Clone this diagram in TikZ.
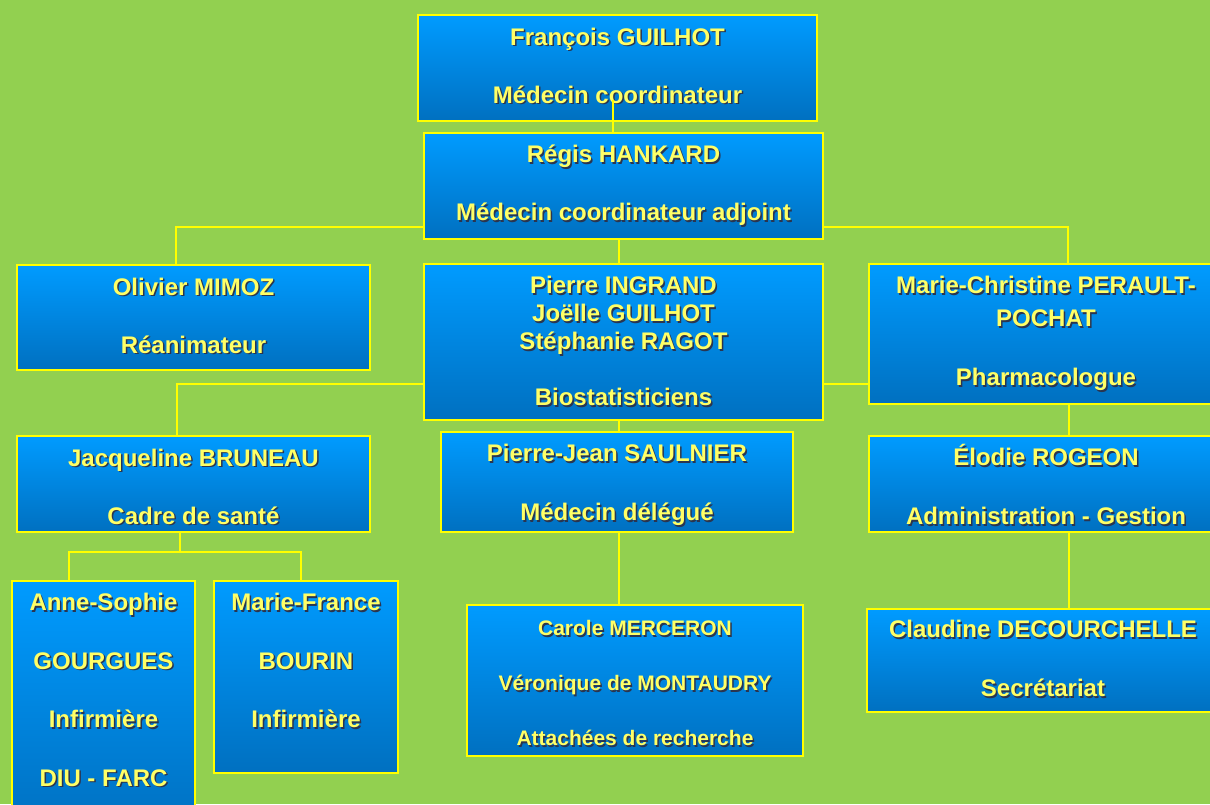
\documentclass[tikz,border=0pt]{standalone}
\usepackage{fontspec}
\setmainfont{Liberation Sans}
\usetikzlibrary{calc}
\definecolor{bggreen}{HTML}{92D050}
\definecolor{boxtop}{HTML}{009BFF}
\definecolor{boxbot}{HTML}{0070C0}
\definecolor{lineyel}{HTML}{FFFF00}
\definecolor{txtyel}{HTML}{FFFF66}
\definecolor{shadowc}{HTML}{2A3550}
\newcommand\shtxt[1]{\makebox[0pt][l]{\hspace{1.5pt}\raisebox{-1.5pt}{\color{shadowc}#1}}#1}
\newcommand\boxc[4]{\parbox[t][#2pt][t]{#1pt}{\centering\rule{0pt}{#3pt}#4}}
\pgfdeclarelayer{bglayer}
\pgfsetlayers{bglayer,main}
\tikzset{
  orgbox/.style={draw=lineyel, line width=2pt, top color=boxtop, bottom color=boxbot,
    inner sep=0pt, text=txtyel, anchor=north west,
    font=\fontsize{24}{29}\selectfont\bfseries},
  conn/.style={draw=lineyel, line width=2pt}
}
\begin{document}
\begin{tikzpicture}[x=1pt,y=-1pt]
\useasboundingbox (0,0) rectangle (1210,804);
\clip (0,0) rectangle (1210,804);

\node[orgbox] (A) at (417,14) {\boxc{399}{106}{30}{\shtxt{François GUILHOT}\\[29pt]\shtxt{Médecin coordinateur}}};
\node[orgbox] (B) at (423,132) {\boxc{399}{106}{29.5}{\shtxt{Régis HANKARD}\\[29pt]\shtxt{Médecin coordinateur adjoint}}};
\node[orgbox] (C) at (16,264) {\boxc{353}{105}{30}{\shtxt{Olivier MIMOZ}\\[29pt]\shtxt{Réanimateur}}};
\node[orgbox, font=\fontsize{24}{28}\selectfont\bfseries] (D) at (423,263) {\boxc{399}{156}{29.5}{\shtxt{Pierre INGRAND}\\\shtxt{Joëlle GUILHOT}\\\shtxt{Stéphanie RAGOT}\\[28pt]\shtxt{Biostatisticiens}}};
\node[orgbox] (E) at (868,263) {\boxc{354}{140}{29.5}{\shtxt{Marie-Christine PERAULT-}\\[4pt]\shtxt{POCHAT}\\[30pt]\shtxt{Pharmacologue}}};
\node[orgbox] (F) at (16,435) {\boxc{353}{96}{30}{\shtxt{Jacqueline BRUNEAU}\\[29pt]\shtxt{Cadre de santé}}};
\node[orgbox] (G) at (440,431) {\boxc{352}{100}{29.5}{\shtxt{Pierre-Jean SAULNIER}\\[30pt]\shtxt{Médecin délégué}}};
\node[orgbox] (H) at (868,435) {\boxc{354}{96}{29.5}{\shtxt{Élodie ROGEON}\\[30pt]\shtxt{Administration - Gestion}}};
\node[orgbox] (I) at (11,580) {\boxc{183}{250}{29.5}{\shtxt{Anne-Sophie}\\[29.5pt]\shtxt{GOURGUES}\\[29.5pt]\shtxt{Infirmière}\\[29.5pt]\shtxt{DIU - FARC}}};
\node[orgbox] (J) at (213,580) {\boxc{184}{192}{29.5}{\shtxt{Marie-France}\\[29.5pt]\shtxt{BOURIN}\\[29.5pt]\shtxt{Infirmière}}};
\node[orgbox, font=\fontsize{21}{27.5}\selectfont\bfseries] (K) at (466,604) {\boxc{336}{151}{30.5}{\shtxt{Carole MERCERON}\\[27.5pt]\shtxt{Véronique de MONTAUDRY}\\[27.5pt]\shtxt{Attachées de recherche}}};
\node[orgbox] (L) at (866,608) {\boxc{352}{103}{28.5}{\shtxt{Claudine DECOURCHELLE}\\[30pt]\shtxt{Secrétariat}}};

\begin{pgfonlayer}{bglayer}
\fill[bggreen] (0,0) rectangle (1210,804);
\coordinate (c1) at (176,227);
\coordinate (c2) at (1068,227);
\coordinate (c3) at (619,0);
\coordinate (c4) at (177,384);
\coordinate (c7) at (1069,0);
\coordinate (c8) at (180,552);
\coordinate (c9) at (69,552);
\coordinate (c10) at (301,552);
\draw[conn] (c1 |- C.north) -- (c1) -- (c2) -- (c2 |- E.north);
\draw[conn] (c3 |- B.south) -- (c3 |- D.north);
\draw[conn] (c4 |- F.north) -- (c4) -- (c4 -| E.west);
\draw[conn] (c3 |- D.south) -- (c3 |- G.north);
\draw[conn] (c7 |- E.south) -- (c7 |- H.north);
\draw[conn] (c8 |- F.south) -- (c8);
\draw[conn] (c9 |- I.north) -- (c9) -- (c10) -- (c10 |- J.north);
\draw[conn] (c3 |- G.south) -- (c3 |- K.north);
\draw[conn] (c7 |- H.south) -- (c7 |- L.north);
\end{pgfonlayer}
\coordinate (c0) at (613,100);
\draw[conn] (c0) -- (c0 |- B.north);
\end{tikzpicture}
\end{document}
